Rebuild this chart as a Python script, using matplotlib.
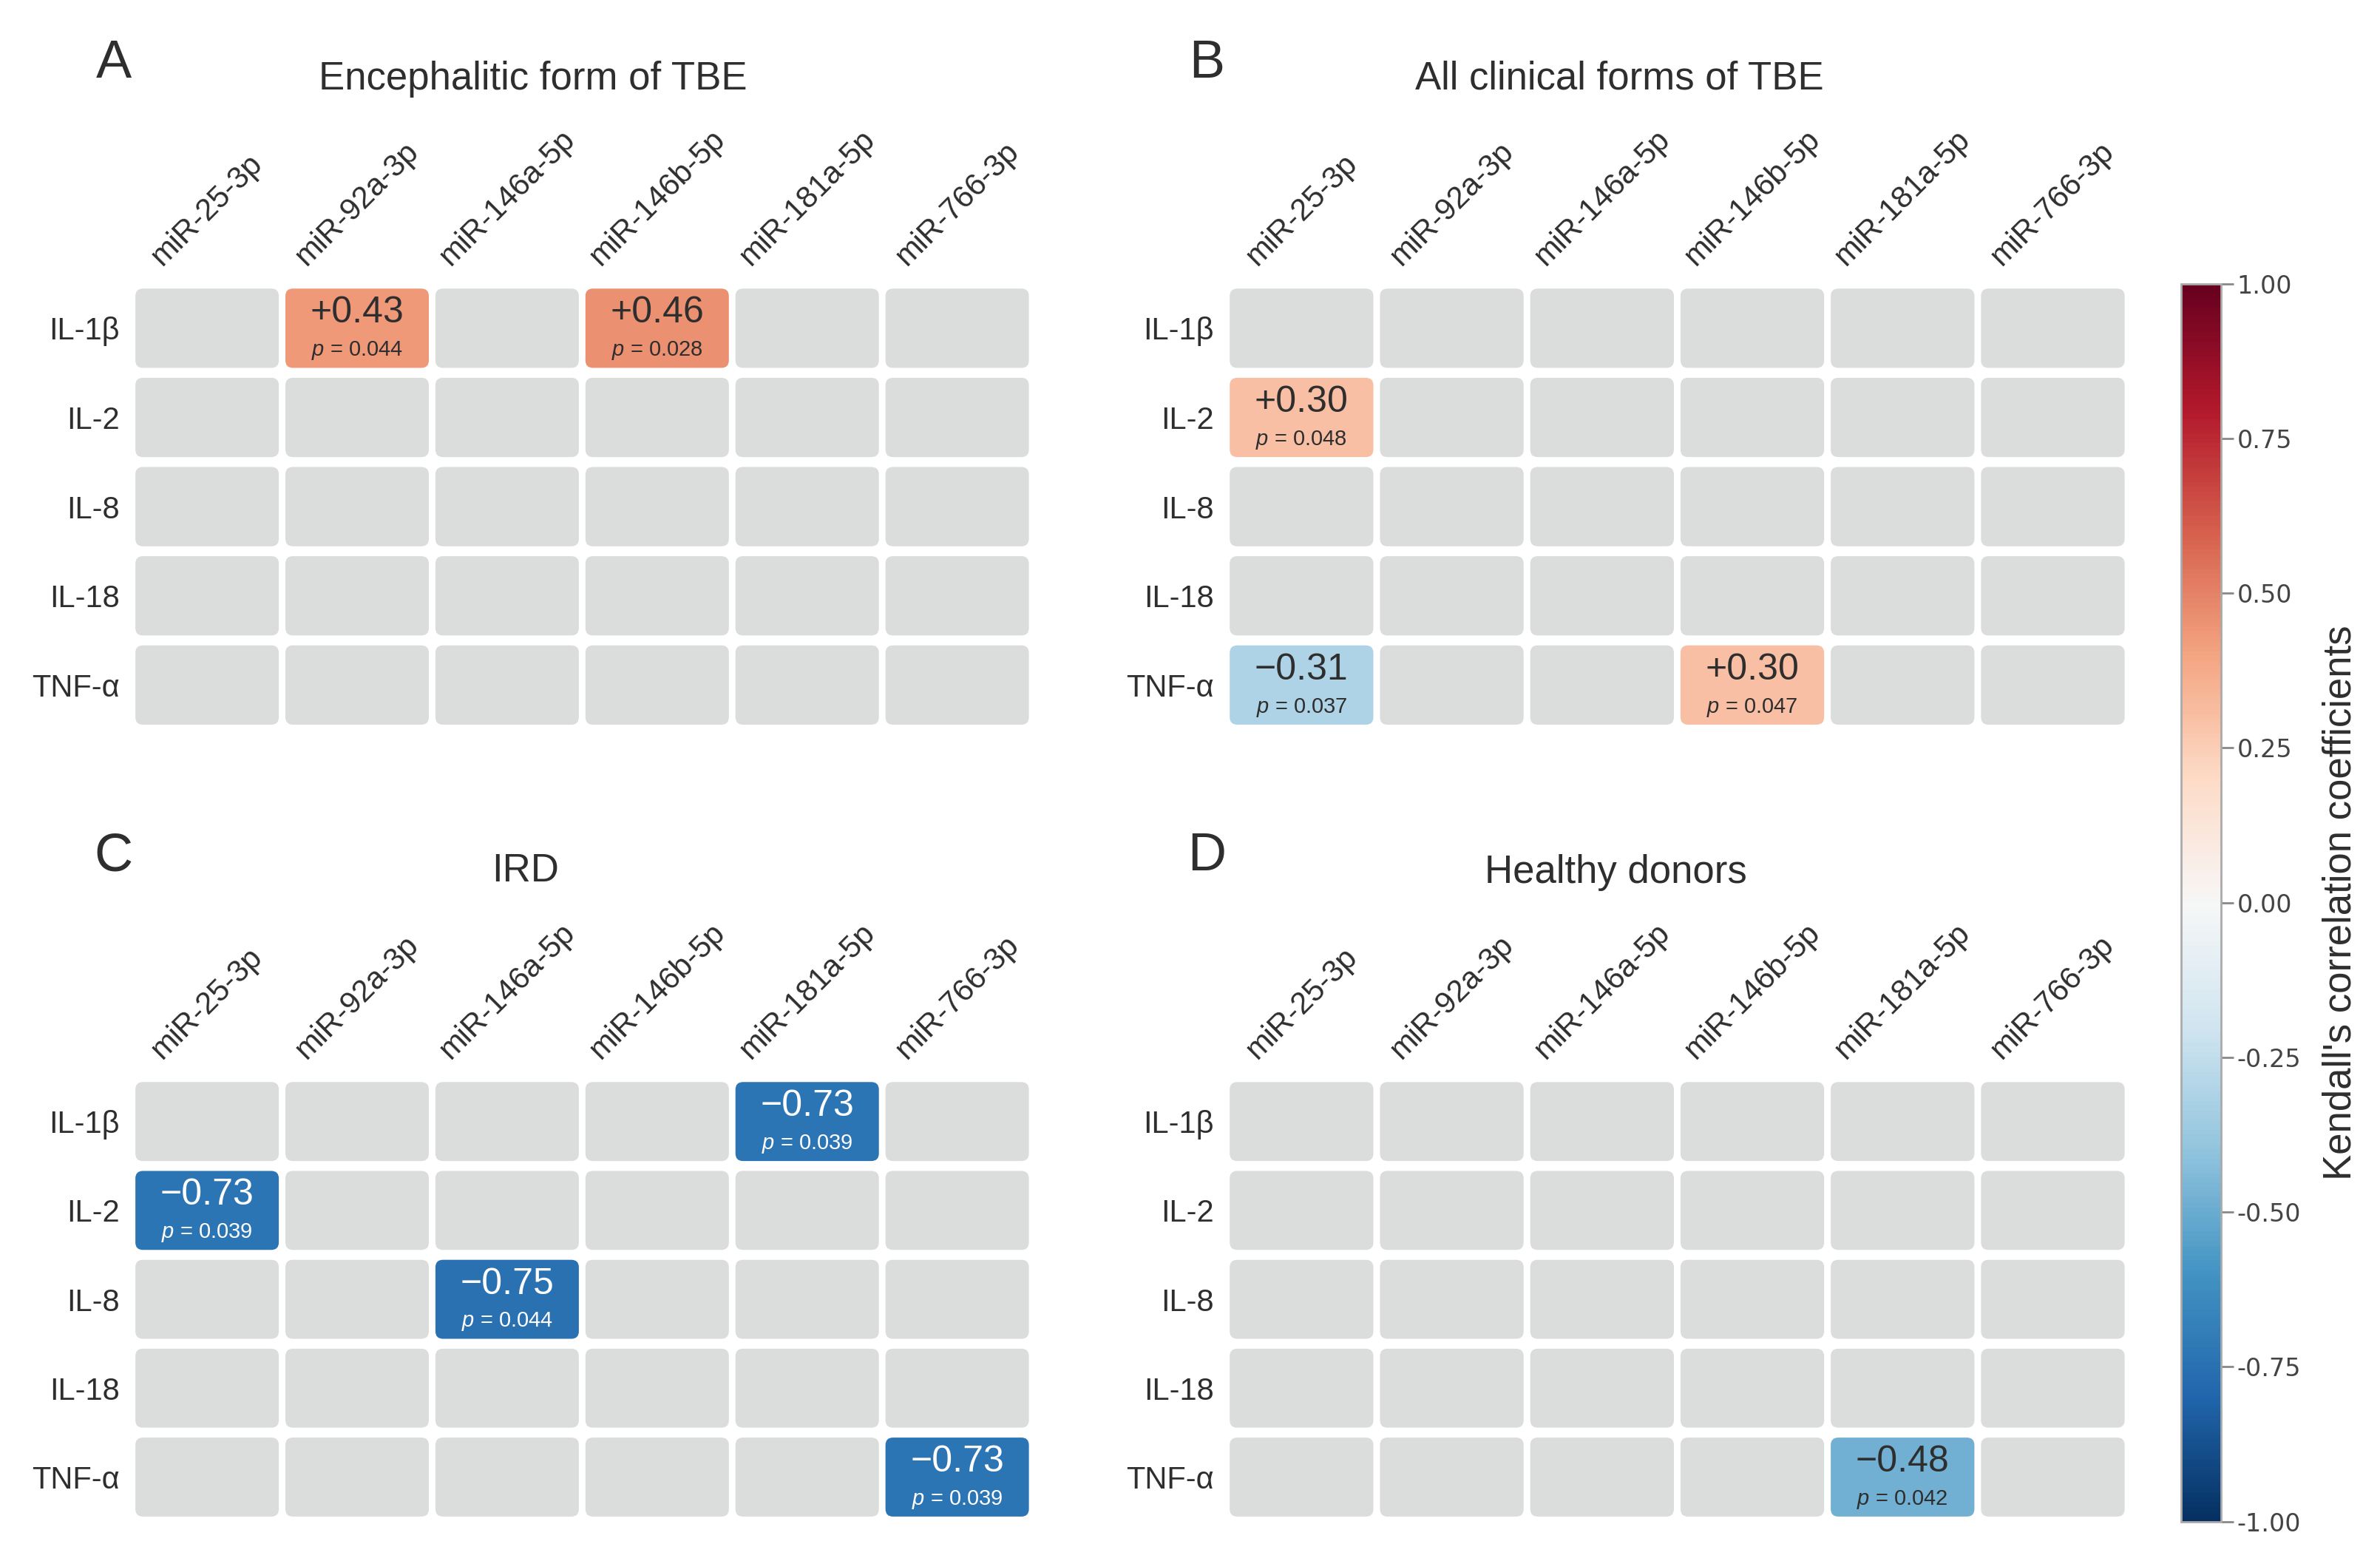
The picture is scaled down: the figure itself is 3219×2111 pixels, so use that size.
import numpy as np
import matplotlib
matplotlib.use("Agg")
import matplotlib.pyplot as plt
from matplotlib.patches import FancyBboxPatch
from matplotlib import colors, cm

plt.rcParams['font.family'] = ['Liberation Sans', 'DejaVu Sans']
plt.rcParams['mathtext.fontset'] = 'custom'
plt.rcParams['mathtext.it'] = 'Liberation Sans:italic'
plt.rcParams['mathtext.rm'] = 'Liberation Sans'

# ---------------- data ----------------
cytokines = ["IL-1β", "IL-2", "IL-8", "IL-18", "TNF-α"]
mirnas = ["miR-25-3p", "miR-92a-3p", "miR-146a-5p", "miR-146b-5p", "miR-181a-5p", "miR-766-3p"]

panel_letters = ["A", "B", "C", "D"]
panel_titles = ["Encephalitic form of TBE", "All clinical forms of TBE", "IRD", "Healthy donors"]

# (cytokine, miRNA, Kendall tau, p)
cells_a = [("IL-1β", "miR-92a-3p", 0.43, 0.044),
           ("IL-1β", "miR-146b-5p", 0.46, 0.028)]
cells_b = [("IL-2", "miR-25-3p", 0.30, 0.048),
           ("TNF-α", "miR-25-3p", -0.31, 0.037),
           ("TNF-α", "miR-146b-5p", 0.30, 0.047)]
cells_c = [("IL-1β", "miR-181a-5p", -0.73, 0.039),
           ("IL-2", "miR-25-3p", -0.73, 0.039),
           ("IL-8", "miR-146a-5p", -0.75, 0.044),
           ("TNF-α", "miR-766-3p", -0.73, 0.039)]
cells_d = [("TNF-α", "miR-181a-5p", -0.48, 0.042)]

cbar_ticks = [-1.00, -0.75, -0.50, -0.25, 0.00, 0.25, 0.50, 0.75, 1.00]

# ---------------- layout ----------------
W, H = 3219, 2111
DPI = 200
fig = plt.figure(figsize=(W / DPI, H / DPI), dpi=DPI)

cmap = plt.get_cmap("RdBu_r")
norm = colors.Normalize(vmin=-1, vmax=1)
GRAY = "#dbdcdc"
TXT = "#2e2e2e"

ax_rects = [
    [0.0555, 0.5326, 0.3782, 0.2857],
    [0.5153, 0.5326, 0.3788, 0.2857],
    [0.0555, 0.0253, 0.3782, 0.2847],
    [0.5153, 0.0253, 0.3788, 0.2847],
]
letter_pos = [(0.0478, 0.959), (0.507, 0.959), (0.0478, 0.451), (0.507, 0.451)]
title_pos = [(0.224, 0.9495), (0.6805, 0.9495), (0.2207, 0.442), (0.679, 0.441)]
all_cells = [cells_a, cells_b, cells_c, cells_d]


def fmt_r(v):
    s = f"{v:+.2f}"
    return s.replace("-", "\u2212")


for k in range(4):
    ax = fig.add_axes(ax_rects[k])
    nr, nc = len(cytokines), len(mirnas)
    ax.set_xlim(0, nc)
    ax.set_ylim(nr, 0)
    cw = ax_rects[k][2] * W / nc
    ch = ax_rects[k][3] * H / nr
    asp = cw / ch
    gx = 0.022
    gy = gx * asp * 1.5
    rs = 0.05
    lookup = {(cytokines.index(r), mirnas.index(c)): (v, p) for r, c, v, p in all_cells[k]}
    for i in range(nr):
        for j in range(nc):
            if (i, j) in lookup:
                v, p = lookup[(i, j)]
                fc = cmap(norm(v))
            else:
                fc = GRAY
            patch = FancyBboxPatch((j + gx, i + gy), 1 - 2 * gx, 1 - 2 * gy,
                                   boxstyle=f"round,pad=0,rounding_size={rs}",
                                   mutation_aspect=asp, fc=fc, ec="none")
            ax.add_patch(patch)
            if (i, j) in lookup:
                tc = "white" if abs(v) > 0.6 else TXT
                ax.text(j + 0.5, i + 0.5 - 0.17, fmt_r(v), ha="center", va="center",
                        fontsize=18, color=tc)
                ax.text(j + 0.5, i + 0.5 + 0.25, rf"$p$ = {p:.3f}", ha="center", va="center",
                        fontsize=10.5, color=tc)
    ax.set_xticks(np.arange(nc) + 0.5)
    ax.set_xticklabels(mirnas)
    ax.xaxis.tick_top()
    ax.tick_params(axis="x", rotation=45, length=0, pad=6, labelsize=15, colors=TXT)
    ax.set_yticks(np.arange(nr) + 0.5)
    ax.set_yticklabels(cytokines)
    ax.tick_params(axis="y", length=0, pad=6, labelsize=15, colors=TXT)
    for s in ax.spines.values():
        s.set_visible(False)
    ax.set_facecolor("white")
    fig.text(letter_pos[k][0], letter_pos[k][1], panel_letters[k], fontsize=26,
             ha="center", va="center", color=TXT)
    fig.text(title_pos[k][0], title_pos[k][1], panel_titles[k], fontsize=19,
             ha="center", va="center", color=TXT)

cax = fig.add_axes([0.9165, 0.0253, 0.0166, 0.793])
sm = cm.ScalarMappable(norm=norm, cmap=cmap)
cb = fig.colorbar(sm, cax=cax, ticks=cbar_ticks)
cb.ax.set_yticklabels([f"{t:.2f}" for t in cbar_ticks], family="DejaVu Sans")
cb.ax.tick_params(length=6, width=1, color="#888888", labelsize=12, labelcolor="#444444", pad=2)
cb.outline.set_edgecolor("#aaaaaa")
cb.outline.set_linewidth(1)
cb.set_label("Kendall's correlation coefficients", fontsize=19, color=TXT, labelpad=10)

fig.savefig("out.png", dpi=DPI)
